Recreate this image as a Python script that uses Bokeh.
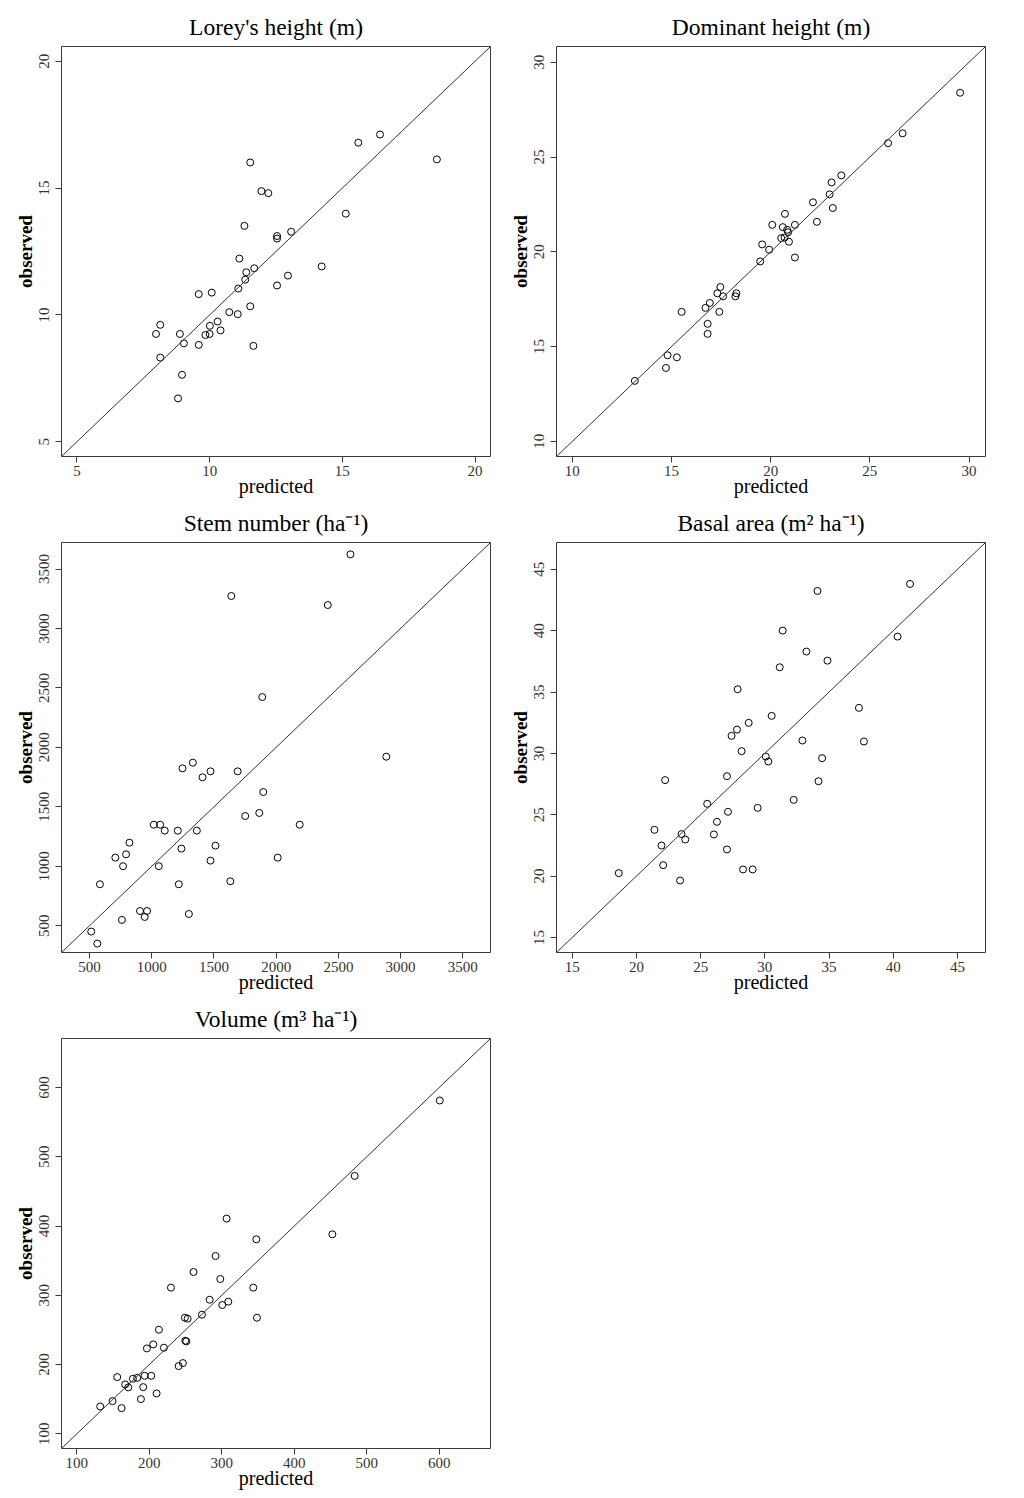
from bokeh.plotting import figure
from bokeh.models import Range1d, FixedTicker, Slope
from bokeh.layouts import column, row
from bokeh.embed import file_html
from bokeh.resources import INLINE

FONT = "Liberation Serif"

# ---- Lorey's height (m) ----
lorey_pred = [15.60, 16.42, 18.56, 11.53, 11.95, 12.21, 15.13, 11.31, 13.07, 12.54,
              12.54, 11.12, 14.22, 11.68, 11.38, 11.34, 12.95, 12.54, 11.08, 9.59,
              10.08, 11.53, 10.74, 11.06, 8.14, 10.01, 10.30, 10.41, 7.98, 8.88,
              9.84, 10.00, 9.03, 9.59, 11.65, 8.14, 8.96, 8.81]
lorey_obs = [16.79, 17.11, 16.13, 16.01, 14.88, 14.80, 13.99, 13.51, 13.28, 13.11,
             13.01, 12.22, 11.91, 11.84, 11.68, 11.39, 11.55, 11.16, 11.04, 10.82,
             10.88, 10.34, 10.11, 10.03, 9.61, 9.57, 9.74, 9.39, 9.25, 9.25,
             9.21, 9.25, 8.88, 8.82, 8.78, 8.32, 7.64, 6.71]
lorey_ticks = [5, 10, 15, 20]

# ---- Dominant height (m) ----
dom_pred = [29.55, 26.65, 25.92, 23.56, 23.07, 22.97, 23.13, 22.13, 22.33, 20.72,
            20.08, 21.22, 20.61, 20.83, 20.88, 20.53, 20.70, 20.92, 19.57, 19.92,
            19.47, 21.22, 17.46, 17.31, 17.60, 18.27, 18.22, 16.93, 16.71, 15.51,
            17.41, 16.82, 16.82, 14.80, 15.27, 14.72, 13.15]
dom_obs = [28.39, 26.25, 25.73, 24.03, 23.66, 23.03, 22.31, 22.61, 21.58, 22.00,
           21.42, 21.42, 21.30, 21.16, 21.03, 20.72, 20.75, 20.53, 20.39, 20.11,
           19.49, 19.70, 18.14, 17.81, 17.65, 17.81, 17.65, 17.30, 17.04, 16.83,
           16.83, 16.20, 15.67, 14.54, 14.43, 13.87, 13.19]
dom_ticks = [10, 15, 20, 25, 30]

# ---- Stem number (ha-1) ----
stem_pred = [2597, 1639, 2415, 1888, 2885, 1330, 1247, 1472, 1690, 1408,
             1896, 1864, 1751, 1016, 1067, 2189, 1104, 1209, 1362, 820,
             1512, 1238, 793, 707, 2012, 1472, 769, 1056, 1631, 583,
             1217, 905, 962, 943, 1298, 760, 513, 562]
stem_obs = [3623, 3273, 3197, 2423, 1921, 1871, 1823, 1798, 1798, 1748,
            1624, 1448, 1422, 1349, 1349, 1349, 1299, 1299, 1299, 1198,
            1173, 1148, 1100, 1072, 1072, 1047, 1000, 1000, 873, 848,
            848, 623, 623, 573, 598, 548, 450, 349]
stem_ticks = [500, 1000, 1500, 2000, 2500, 3000, 3500]

# ---- Basal area (m2 ha-1) ----
ba_pred = [41.31, 34.10, 31.39, 40.34, 33.24, 34.88, 31.16, 27.88, 37.33, 30.53,
           28.74, 27.83, 27.41, 32.93, 37.72, 28.19, 30.07, 30.27, 34.46, 27.05,
           22.23, 34.18, 32.25, 25.51, 29.44, 27.13, 26.27, 21.40, 23.51, 26.03,
           23.80, 21.95, 27.05, 22.08, 28.30, 29.05, 18.62, 23.40]
ba_obs = [43.81, 43.24, 40.01, 39.52, 38.30, 37.56, 37.02, 35.23, 33.71, 33.06,
          32.49, 31.94, 31.43, 31.05, 30.97, 30.18, 29.74, 29.34, 29.61, 28.14,
          27.82, 27.73, 26.21, 25.89, 25.56, 25.24, 24.42, 23.77, 23.42, 23.39,
          22.98, 22.49, 22.17, 20.89, 20.54, 20.54, 20.24, 19.64]
ba_ticks = [15, 20, 25, 30, 35, 40, 45]

# ---- Volume (m3 ha-1) ----
vol_pred = [600.7, 483.3, 306.6, 452.5, 347.6, 291.4, 261.0, 297.9, 229.8, 343.4,
            283.2, 308.9, 300.6, 272.6, 249.1, 252.8, 348.5, 213.2, 249.6, 251.0,
            205.4, 196.6, 220.1, 246.3, 240.4, 155.7, 193.4, 202.6, 177.3, 183.3,
            166.7, 170.9, 191.6, 210.0, 188.4, 149.2, 132.2, 161.7]
vol_obs = [581.2, 472.3, 410.7, 388.0, 380.8, 356.7, 333.6, 323.5, 311.0, 311.0,
           293.6, 290.8, 285.9, 272.0, 267.6, 266.2, 267.6, 250.3, 234.4, 233.4,
           229.1, 223.3, 224.3, 202.1, 197.8, 181.9, 183.8, 183.8, 179.5, 180.9,
           171.3, 167.0, 167.4, 158.3, 150.1, 147.2, 139.5, 137.1]
vol_ticks = [100, 200, 300, 400, 500, 600]

titles = ["Lorey's height (m)", "Dominant height (m)", "Stem number (ha\u207B\u00B9)",
          "Basal area (m\u00B2 ha\u207B\u00B9)", "Volume (m\u00B3 ha\u207B\u00B9)"]
ranges = [(4.42, 20.58), (9.2, 30.83), (274, 3723), (13.77, 47.19), (78.8, 670.7)]


def make_panel(title, pred, obs, rng, ticks):
    lo, hi = rng
    p = figure(title=title, output_backend="svg", toolbar_location=None,
               frame_width=429, frame_height=410,
               min_border_left=53, min_border_right=13,
               min_border_top=38, min_border_bottom=48,
               x_range=Range1d(lo, hi), y_range=Range1d(lo, hi),
               x_axis_label="predicted", y_axis_label="observed",
               background_fill_color="white", border_fill_color="white")
    p.grid.visible = False
    p.outline_line_color = "#3a3a3a"
    p.outline_line_width = 1
    p.outline_line_alpha = 1.0

    p.title.text_font = FONT
    p.title.text_font_size = "23.5px"
    p.title.text_font_style = "normal"
    p.title.text_color = "black"
    p.title.align = "center"
    p.title.vertical_align = "top"
    p.title.standoff = 9

    for ax in (p.xaxis[0], p.yaxis[0]):
        ax.ticker = FixedTicker(ticks=ticks, minor_ticks=[])
        ax.axis_line_color = None
        ax.major_tick_line_color = "#3a3a3a"
        ax.major_tick_in = 0
        ax.major_tick_out = 6
        ax.minor_tick_line_color = None
        ax.major_label_text_font = FONT
        ax.major_label_text_font_size = "15px"
        ax.major_label_text_color = "#333333"
        ax.axis_label_text_font = FONT
        ax.axis_label_text_color = "black"
    xa, ya = p.xaxis[0], p.yaxis[0]
    xa.major_label_standoff = 3
    xa.axis_label_standoff = -4
    xa.axis_label_text_font_size = "20px"
    xa.axis_label_text_font_style = "normal"
    ya.major_label_standoff = 6
    ya.axis_label_standoff = 1
    ya.axis_label_text_font_size = "19px"
    ya.axis_label_text_font_style = "bold"
    ya.major_label_orientation = "vertical"

    p.add_layout(Slope(gradient=1, y_intercept=0, line_color="#333333", line_width=1))
    p.scatter(pred, obs, marker="circle", size=7, fill_color=None,
              line_color="black", line_width=1)
    return p


p1 = make_panel(titles[0], lorey_pred, lorey_obs, ranges[0], lorey_ticks)
p2 = make_panel(titles[1], dom_pred, dom_obs, ranges[1], dom_ticks)
p3 = make_panel(titles[2], stem_pred, stem_obs, ranges[2], stem_ticks)
p4 = make_panel(titles[3], ba_pred, ba_obs, ranges[3], ba_ticks)
p5 = make_panel(titles[4], vol_pred, vol_obs, ranges[4], vol_ticks)

layout = column(row(p1, p2), row(p3, p4), row(p5), margin=(8, 0, 0, 8))

open("out.html", "w").write(file_html(layout, INLINE))
